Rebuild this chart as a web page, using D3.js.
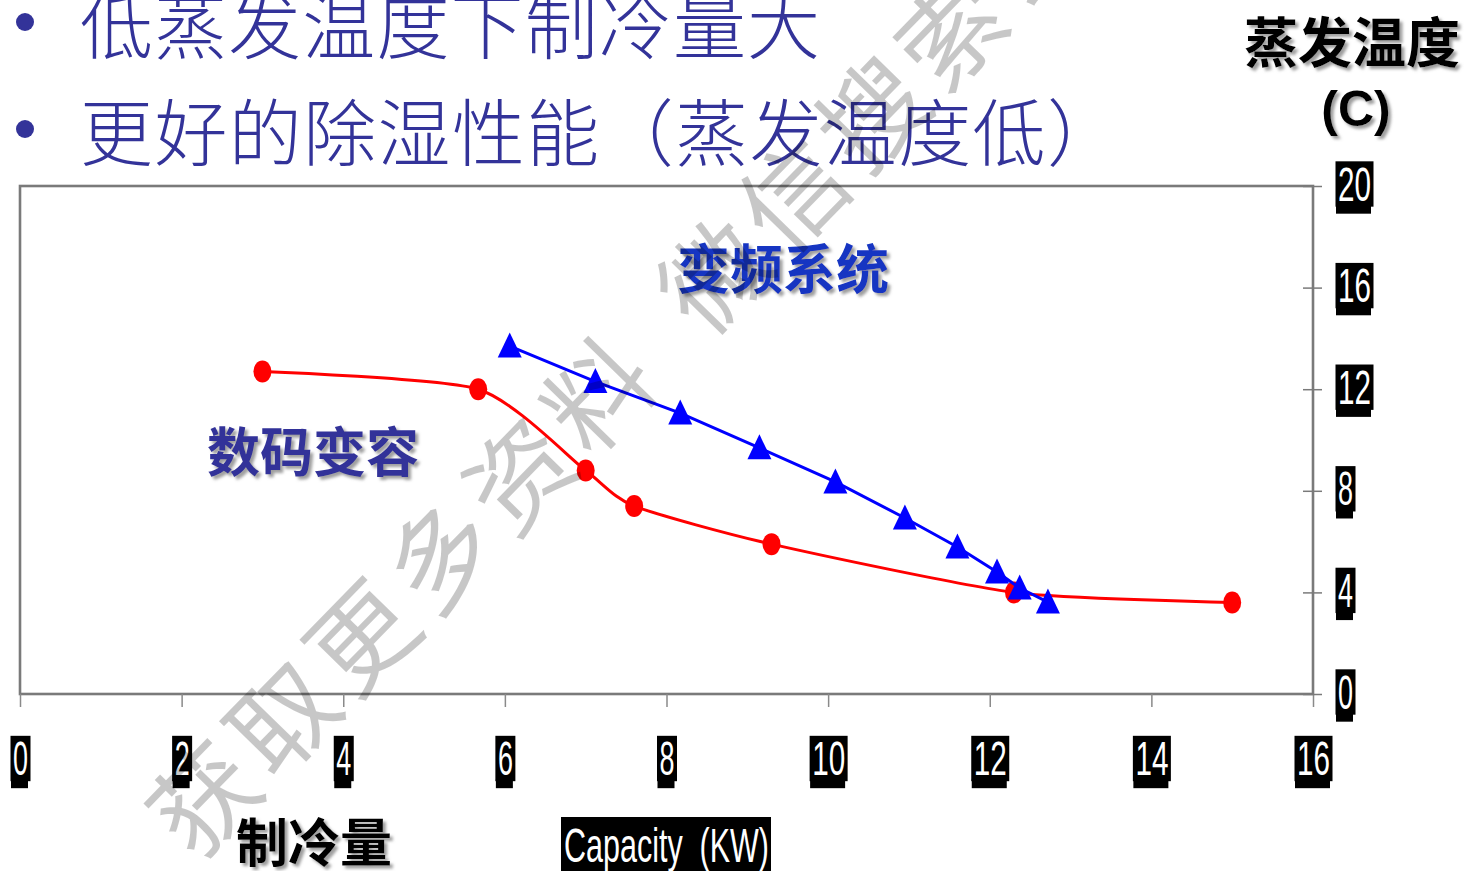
<!DOCTYPE html>
<html>
<head>
<meta charset="utf-8">
<script src="https://cdn.jsdelivr.net/npm/d3@7"></script>
<style>
  html, body { margin: 0; padding: 0; background: #fff; overflow: hidden; }
  svg { display: block; }
</style>
</head>
<body>
<svg id="chart" width="1466" height="871"></svg>
<script>
// ---- data ----
const bulletLines = ["低蒸发温度下制冷量大", "更好的除湿性能（蒸发温度低）"];
const xTicks = [0, 2, 4, 6, 8, 10, 12, 14, 16];
const yTicks = [0, 4, 8, 12, 16, 20];

// digital scroll (数码变容): capacity kW vs evaporating temperature °C
const digitalCapacity = [3.0, 5.67, 7.0, 7.6, 9.3, 12.3, 15.0];
const digitalEvapTemp = [12.7, 12.0, 8.8, 7.4, 5.9, 4.0, 3.6];

// inverter system (变频系统)
const inverterCapacity = [6.06, 7.12, 8.17, 9.15, 10.09, 10.95, 11.6, 12.09, 12.37, 12.72];
const inverterEvapTemp = [13.7, 12.3, 11.06, 9.69, 8.35, 6.93, 5.79, 4.8, 4.17, 3.62];

const seriesNames = ["数码变容", "变频系统"];
const yTitle = "蒸发温度";
const yUnit = "(C)";
const xTitleCn = "制冷量";
const xTitleEn = "Capacity  (KW)";
const watermarkParts = ["获取更多资料", "微信搜索公众号"];

// ---- layout ----
const svg = d3.select("#chart");
const x = d3.scaleLinear().domain([0, 16]).range([20, 1313]);
const y = d3.scaleLinear().domain([0, 20]).range([694, 186]);

const narrowFont = "'Liberation Sans Narrow', 'Liberation Sans', Arial, sans-serif";
const cjkFont = "'Noto Sans CJK SC', 'Noto Sans', sans-serif";

const defs = svg.append("defs");
const shadow = defs.append("filter").attr("id", "shadow")
  .attr("x", "-10%").attr("y", "-20%").attr("width", "130%").attr("height", "150%");
shadow.append("feDropShadow").attr("dx", 3).attr("dy", 3)
  .attr("stdDeviation", 1.6).attr("flood-color", "#7f7f7f").attr("flood-opacity", 0.75);

// plot frame
svg.append("rect")
  .attr("x", x(0)).attr("y", y(20))
  .attr("width", x(16) - x(0)).attr("height", y(0) - y(20))
  .attr("fill", "#fff").attr("stroke", "#7a7a7a").attr("stroke-width", 2.6);

// boxed tick label helper: white digits on a black tab
const labelFs = 48;
function boxLabel(sel, d, cx, cy, anchor) {
  const txt = String(d);
  const w = txt.length === 1 ? 15 : 33;
  const left = anchor === "start" ? cx : cx - w / 2;
  const top = cy - 0.358 * labelFs - 5;
  const bottom = cy + 0.358 * labelFs + 6;
  sel.insert("rect", "text")
    .attr("x", left - 2).attr("y", bottom - 2)
    .attr("width", w + 2).attr("height", 9).attr("fill", "#000");
  sel.insert("rect", "text")
    .attr("x", left - 2.5).attr("y", top)
    .attr("width", w + 5).attr("height", bottom - top).attr("fill", "#000");
  sel.select("text")
    .attr("x", left + w / 2).attr("y", cy + 0.358 * labelFs).attr("dy", null)
    .attr("text-anchor", "middle")
    .attr("textLength", w).attr("lengthAdjust", "spacingAndGlyphs")
    .style("font-family", narrowFont).style("font-size", labelFs + "px")
    .style("fill", "#fff");
}

// x axis (ticks below the frame, boxed labels)
const gx = svg.append("g")
  .attr("transform", `translate(0,${y(0)})`)
  .call(d3.axisBottom(x).tickValues(xTicks).tickSize(13).tickFormat(d3.format("d")));
gx.select(".domain").remove();
gx.selectAll(".tick line").attr("stroke", "#8a8a8a").attr("stroke-width", 1.5);
gx.selectAll(".tick").each(function (d) {
  boxLabel(d3.select(this), d, 0, 64, "middle");
});

// y axis on the right (ticks crossing the frame, boxed labels)
const gy = svg.append("g")
  .attr("transform", `translate(${x(16)},0)`)
  .call(d3.axisRight(y).tickValues(yTicks).tickSize(9).tickFormat(d3.format("d")));
gy.select(".domain").remove();
gy.selectAll(".tick line").attr("x1", -10).attr("x2", 9)
  .attr("stroke", "#7a7a7a").attr("stroke-width", 1.5);
gy.selectAll(".tick").each(function (d) {
  boxLabel(d3.select(this), d, 25, -3, "start");
});

// ---- series ----
const digital = digitalCapacity.map((c, i) => ({ c, t: digitalEvapTemp[i] }));
const inverter = inverterCapacity.map((c, i) => ({ c, t: inverterEvapTemp[i] }));

svg.append("path")
  .datum(digital)
  .attr("fill", "none").attr("stroke", "#ff0000").attr("stroke-width", 3)
  .attr("d", d3.line().x(d => x(d.c)).y(d => y(d.t)).curve(d3.curveCardinal.tension(0.35)));

svg.append("g").selectAll("ellipse")
  .data(digital).join("ellipse")
  .attr("cx", d => x(d.c)).attr("cy", d => y(d.t))
  .attr("rx", 9).attr("ry", 11).attr("fill", "#ff0000");

svg.append("path")
  .datum(inverter)
  .attr("fill", "none").attr("stroke", "#0000ff").attr("stroke-width", 3)
  .attr("d", d3.line().x(d => x(d.c)).y(d => y(d.t)));

svg.append("g").selectAll("path")
  .data(inverter).join("path")
  .attr("transform", d => `translate(${x(d.c)},${y(d.t)})`)
  .attr("d", "M0,-13.5L12,11.5L-12,11.5Z")
  .attr("fill", "#0000ff");

// series captions
svg.append("text")
  .attr("x", 207).attr("y", 453).attr("dy", "0.36em")
  .attr("filter", "url(#shadow)")
  .style("font-family", cjkFont).style("font-weight", 700).style("font-size", "53px")
  .style("fill", "#333399")
  .text(seriesNames[0]);

svg.append("text")
  .attr("x", 677).attr("y", 270).attr("dy", "0.36em")
  .attr("filter", "url(#shadow)")
  .style("font-family", cjkFont).style("font-weight", 700).style("font-size", "53px")
  .style("fill", "#1436c2")
  .text(seriesNames[1]);

// ---- axis titles ----
svg.append("text")
  .attr("x", 1352).attr("y", 44).attr("dy", "0.36em").attr("text-anchor", "middle")
  .attr("filter", "url(#shadow)")
  .style("font-family", cjkFont).style("font-weight", 700).style("font-size", "54px")
  .style("fill", "#000")
  .text(yTitle);

svg.append("text")
  .attr("x", 1356).attr("y", 108).attr("dy", "0.36em").attr("text-anchor", "middle")
  .attr("filter", "url(#shadow)")
  .style("font-family", "'Liberation Sans', Arial, sans-serif").style("font-weight", 700)
  .style("font-size", "50px").style("fill", "#000")
  .text(yUnit);

svg.append("text")
  .attr("x", 236).attr("y", 843).attr("dy", "0.36em")
  .attr("filter", "url(#shadow)")
  .style("font-family", cjkFont).style("font-weight", 700).style("font-size", "52px")
  .style("fill", "#000")
  .text(xTitleCn);

svg.append("rect").attr("x", 561).attr("y", 817).attr("width", 210).attr("height", 54).attr("fill", "#000");
svg.append("text")
  .attr("x", 564).attr("y", 862)
  .attr("textLength", 205).attr("lengthAdjust", "spacingAndGlyphs")
  .style("white-space", "pre")
  .style("font-family", narrowFont).style("font-size", "49px").style("fill", "#fff")
  .text(xTitleEn);

// ---- bullet points ----
const bulletY = [27, 134];
const bulletWidths = [740, 1040];
bulletLines.forEach((line, i) => {
  svg.append("circle").attr("cx", 25).attr("cy", bulletY[i] - 5).attr("r", 9).attr("fill", "#333399");
  svg.append("text")
    .attr("x", 80).attr("y", bulletY[i]).attr("dy", "0.36em")
    .attr("textLength", bulletWidths[i]).attr("lengthAdjust", "spacing")
    .style("font-family", cjkFont).style("font-weight", 300).style("font-size", "73px")
    .style("fill", "#333399")
    .text(line);
});

// ---- diagonal watermark text ----
const wm = svg.append("g")
  .attr("transform", "translate(205,800) rotate(-45.7)")
  .append("text")
  .attr("x", -52).attr("y", 0).attr("dy", "0.36em")
  .style("font-family", cjkFont).style("font-weight", 400).style("font-size", "104px")
  .style("letter-spacing", "9px")
  .style("fill", "#000").style("fill-opacity", 0.22);
wm.append("tspan").text(watermarkParts[0]);
wm.append("tspan").attr("dx", 53).text(watermarkParts[1]);
</script>
</body>
</html>
